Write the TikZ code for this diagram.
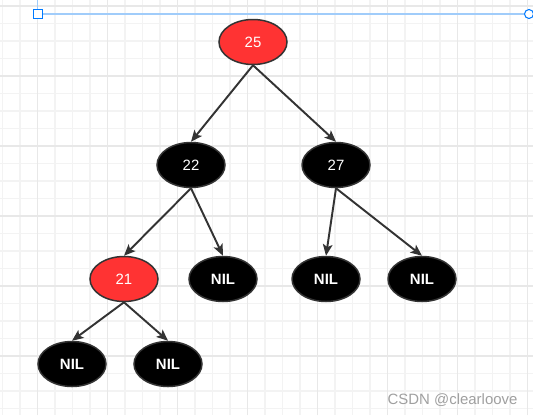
\documentclass[tikz,border=0pt]{standalone}
\usepackage{fontspec}
\setmainfont{Liberation Sans}
\usetikzlibrary{arrows.meta,shapes.geometric}
\definecolor{rosso}{RGB}{255,51,51}
\definecolor{bordo}{RGB}{51,51,51}
\definecolor{grigliaminore}{RGB}{243,243,243}
\definecolor{grigliamaggiore}{RGB}{232,232,232}
\definecolor{guida}{RGB}{160,204,250}
\definecolor{maniglia}{RGB}{0,122,255}
\definecolor{filigrana}{RGB}{160,160,160}
\begin{document}
\begin{tikzpicture}[thick]
	\tikzset{nodo/.style={ellipse, draw=bordo, line width=0.85pt, minimum width=1.36cm, minimum height=0.9cm, inner sep=0pt, text=white, font=\fontsize{8.5}{10}\selectfont},
		nodorosso/.style={nodo, fill=rosso},
		nodonero/.style={nodo, fill=black, font=\fontsize{8.5}{10}\selectfont\bfseries},
		arco/.style={draw=bordo, line width=1.1pt, -{Stealth[length=6.5pt, width=5.5pt, inset=1.5pt]}}}
	
	% Sfondo e griglia
	\useasboundingbox (0,0) rectangle (10.66,8.30);
	\fill[white] (0,0) rectangle (10.66,8.30);
	\foreach \i in {0,...,30}
		\draw[grigliaminore, line width=0.6pt] (0.05+0.35*\i,0) -- (0.05+0.35*\i,8.30);
	\foreach \i in {0,...,23}
		\draw[grigliaminore, line width=0.6pt] (0,0.13+0.35*\i) -- (10.66,0.13+0.35*\i);
	\foreach \i in {0,...,7}
		\draw[grigliamaggiore, line width=0.9pt] (0.75+1.4*\i,0) -- (0.75+1.4*\i,8.30);
	\foreach \i in {0,...,5}
		\draw[grigliamaggiore, line width=0.9pt] (0,1.18+1.4*\i) -- (10.66,1.18+1.4*\i);
	
	% Linea guida in alto
	\coordinate (G1) at (0.76,8.02);
	\coordinate (G2) at (10.58,8.02);
	\draw[guida, line width=1.1pt] (G1) -- (G2);
	\draw[guida, line width=0.8pt] (0.755,8.30) -- (0.755,8.11);
	\draw[maniglia, fill=white, line width=0.6pt] (0.67,7.93) rectangle (0.85,8.11);
	\draw[maniglia, fill=white, line width=0.6pt] (G2) circle (0.09);
	
	% Radice
	\node[nodorosso] (N25) at (5.06,7.46) {25};
	
	% Secondo livello
	\node[nodonero, font=\fontsize{8.5}{10}\selectfont] (N22) at (3.82,5.00) {22};
	\node[nodonero, font=\fontsize{8.5}{10}\selectfont] (N27) at (6.72,5.00) {27};
	
	% Terzo livello
	\node[nodorosso] (N21) at (2.48,2.72) {21};
	\node[nodonero] (L1) at (4.46,2.72) {NIL};
	\node[nodonero] (L2) at (6.52,2.72) {NIL};
	\node[nodonero] (L3) at (8.44,2.72) {NIL};
	
	% Foglie di 21
	\node[nodonero] (L4) at (1.44,1.02) {NIL};
	\node[nodonero] (L5) at (3.36,1.02) {NIL};
	
	\draw[arco] (N25.south) -- (N22.north);
	\draw[arco] (N25.south) -- (N27.north);
	\draw[arco] (N22.south) -- (N21.north);
	\draw[arco] (N22.south) -- (L1.north);
	\draw[arco] (N27.south) -- (L2.north);
	\draw[arco] (N27.south) -- (L3.north);
	\draw[arco] (N21.south) -- (L4.north);
	\draw[arco] (N21.south) -- (L5.north);
	
	% Filigrana
	\node[anchor=base west, inner sep=0pt, text=filigrana, font=\fontsize{8.5}{10}\selectfont] (W) at (7.74,0.21) {CSDN @clearloove};
\end{tikzpicture}
\end{document}
